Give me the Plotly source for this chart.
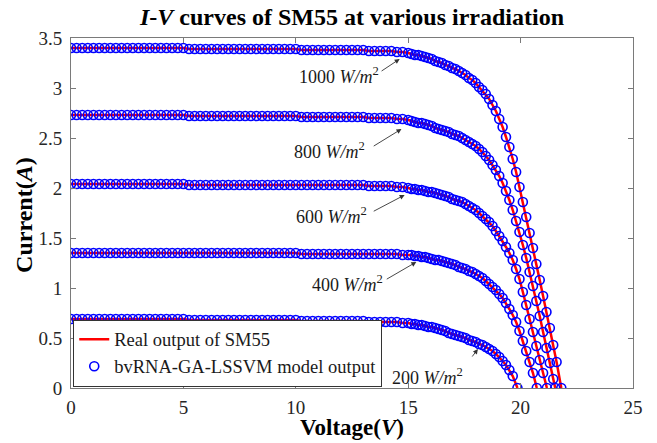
import plotly.graph_objects as go

# ---------------- data ----------------
IRRADIANCE = [1000, 800, 600, 400, 200]

V_FLAT = [0.00, 0.25, 0.50, 0.75, 1.00, 1.25, 1.50, 1.75, 2.00, 2.25,
          2.50, 2.75, 3.00, 3.25, 3.50, 3.75, 4.00, 4.25, 4.50, 4.75,
          5.00, 5.25, 5.50, 5.75, 6.00, 6.25, 6.50, 6.75, 7.00, 7.25,
          7.50, 7.75, 8.00, 8.25, 8.50, 8.75, 9.00, 9.25, 9.50, 9.75,
          10.00, 10.25, 10.50, 10.75, 11.00, 11.25, 11.50, 11.75, 12.00, 12.25,
          12.50, 12.75, 13.00, 13.25, 13.50, 13.75, 14.00, 14.25, 14.50, 14.75,
          15.00]

V_KNEE = [15.15, 15.30, 15.45, 15.60, 15.75, 15.90, 16.05, 16.20, 16.35, 16.50,
          16.65, 16.80, 16.95, 17.10, 17.25, 17.40, 17.55, 17.70, 17.85, 18.00,
          18.15, 18.30, 18.45, 18.60, 18.75, 18.90, 19.05, 19.20, 19.35, 19.50,
          19.65, 19.80, 19.95, 20.10, 20.25, 20.40, 20.55, 20.70, 20.85, 21.00,
          21.15, 21.30, 21.45, 21.60]

I_FLAT_1000 = [3.40, 3.40, 3.40, 3.40, 3.40, 3.40, 3.40, 3.40, 3.40, 3.40,
               3.40, 3.40, 3.40, 3.40, 3.40, 3.40, 3.40, 3.40, 3.40, 3.40,
               3.40, 3.39, 3.39, 3.39, 3.39, 3.39, 3.39, 3.39, 3.39, 3.39,
               3.39, 3.39, 3.39, 3.39, 3.39, 3.39, 3.39, 3.39, 3.39, 3.39,
               3.39, 3.38, 3.38, 3.38, 3.38, 3.38, 3.38, 3.38, 3.38, 3.38,
               3.38, 3.38, 3.38, 3.37, 3.37, 3.37, 3.37, 3.37, 3.36, 3.36,
               3.35]
I_FLAT_800 = [2.73, 2.73, 2.73, 2.73, 2.73, 2.73, 2.73, 2.73, 2.73, 2.73,
              2.73, 2.73, 2.73, 2.73, 2.73, 2.73, 2.73, 2.73, 2.73, 2.73,
              2.73, 2.72, 2.72, 2.72, 2.72, 2.72, 2.72, 2.72, 2.72, 2.72,
              2.72, 2.72, 2.72, 2.72, 2.72, 2.72, 2.72, 2.72, 2.72, 2.72,
              2.72, 2.71, 2.71, 2.71, 2.71, 2.71, 2.71, 2.71, 2.71, 2.71,
              2.71, 2.71, 2.71, 2.70, 2.70, 2.70, 2.70, 2.70, 2.69, 2.69,
              2.68]
I_FLAT_600 = [2.04, 2.04, 2.04, 2.04, 2.04, 2.04, 2.04, 2.04, 2.04, 2.04,
              2.04, 2.04, 2.04, 2.04, 2.04, 2.04, 2.04, 2.04, 2.04, 2.04,
              2.04, 2.03, 2.03, 2.03, 2.03, 2.03, 2.03, 2.03, 2.03, 2.03,
              2.03, 2.03, 2.03, 2.03, 2.03, 2.03, 2.03, 2.03, 2.03, 2.03,
              2.03, 2.03, 2.03, 2.03, 2.03, 2.03, 2.03, 2.03, 2.03, 2.03,
              2.03, 2.03, 2.03, 2.02, 2.02, 2.02, 2.02, 2.02, 2.01, 2.01,
              2.00]
I_FLAT_400 = [1.35, 1.35, 1.35, 1.35, 1.35, 1.35, 1.35, 1.35, 1.35, 1.35,
              1.35, 1.35, 1.35, 1.35, 1.35, 1.35, 1.35, 1.35, 1.35, 1.35,
              1.35, 1.35, 1.35, 1.35, 1.35, 1.35, 1.35, 1.35, 1.35, 1.35,
              1.35, 1.35, 1.35, 1.35, 1.35, 1.35, 1.35, 1.35, 1.35, 1.35,
              1.35, 1.34, 1.34, 1.34, 1.34, 1.34, 1.34, 1.34, 1.34, 1.34,
              1.34, 1.34, 1.34, 1.34, 1.34, 1.34, 1.34, 1.34, 1.34, 1.33,
              1.33]
I_FLAT_200 = [0.69, 0.69, 0.69, 0.69, 0.69, 0.69, 0.69, 0.69, 0.69, 0.69,
              0.69, 0.69, 0.69, 0.69, 0.69, 0.69, 0.69, 0.69, 0.69, 0.69,
              0.69, 0.68, 0.68, 0.68, 0.68, 0.68, 0.68, 0.68, 0.68, 0.68,
              0.68, 0.68, 0.68, 0.68, 0.68, 0.68, 0.68, 0.68, 0.68, 0.68,
              0.68, 0.67, 0.67, 0.67, 0.67, 0.67, 0.67, 0.67, 0.67, 0.67,
              0.67, 0.67, 0.67, 0.66, 0.66, 0.66, 0.66, 0.66, 0.66, 0.65,
              0.65]

I_KNEE_1000 = [3.34, 3.33, 3.33, 3.32, 3.31, 3.30, 3.29, 3.27, 3.26, 3.25,
               3.23, 3.22, 3.20, 3.19, 3.17, 3.15, 3.13, 3.10, 3.08, 3.05,
               3.01, 2.98, 2.94, 2.89, 2.83, 2.77, 2.69, 2.61, 2.51, 2.41,
               2.29, 2.16, 2.01, 1.86, 1.71, 1.55, 1.40, 1.24, 1.08, 0.92,
               0.76, 0.60, 0.43, 0.26]
I_KNEE_800 = [2.67, 2.66, 2.65, 2.65, 2.64, 2.63, 2.62, 2.60, 2.59, 2.58,
              2.57, 2.56, 2.54, 2.53, 2.52, 2.50, 2.48, 2.46, 2.44, 2.42,
              2.39, 2.36, 2.32, 2.28, 2.23, 2.18, 2.12, 2.05, 1.97, 1.88,
              1.78, 1.67, 1.56, 1.43, 1.30, 1.16, 1.02, 0.87, 0.72, 0.56,
              0.40, 0.25, 0.09]
I_KNEE_600 = [1.99, 1.99, 1.98, 1.98, 1.97, 1.96, 1.96, 1.95, 1.94, 1.93,
              1.92, 1.91, 1.89, 1.88, 1.87, 1.86, 1.84, 1.82, 1.80, 1.78,
              1.75, 1.72, 1.69, 1.66, 1.62, 1.57, 1.52, 1.47, 1.41, 1.35,
              1.28, 1.19, 1.09, 0.96, 0.83, 0.69, 0.56, 0.42, 0.28, 0.15]
I_KNEE_400 = [1.33, 1.32, 1.32, 1.31, 1.31, 1.30, 1.29, 1.28, 1.28, 1.27,
              1.26, 1.25, 1.24, 1.23, 1.21, 1.20, 1.19, 1.17, 1.16, 1.14,
              1.12, 1.10, 1.07, 1.04, 1.01, 0.98, 0.94, 0.90, 0.85, 0.79,
              0.73, 0.66, 0.57, 0.47, 0.37, 0.26, 0.15]
I_KNEE_200 = [0.64, 0.64, 0.63, 0.63, 0.62, 0.61, 0.61, 0.60, 0.59, 0.58,
              0.57, 0.55, 0.54, 0.53, 0.52, 0.51, 0.50, 0.48, 0.47, 0.46,
              0.44, 0.43, 0.41, 0.39, 0.37, 0.34, 0.31, 0.27, 0.23, 0.18,
              0.12]

VOC = [21.81, 21.54, 21.17, 20.72, 19.86]

I_FLAT = [I_FLAT_1000, I_FLAT_800, I_FLAT_600, I_FLAT_400, I_FLAT_200]
I_KNEE = [I_KNEE_1000, I_KNEE_800, I_KNEE_600, I_KNEE_400, I_KNEE_200]

# label / arrow placement (data units): text centre, arrow tail, arrow head
LABEL_TEXT = [(11.9, 3.13), (11.5, 2.38), (11.6, 1.73), (12.3, 1.05), (15.85, 0.12)]
ARROW_TAIL = [(13.75, 3.16), (13.4, 2.41), (13.4, 1.76), (13.98, 1.08), (17.8, 0.30)]
ARROW_HEAD = [(14.62, 3.29), (14.70, 2.59), (14.84, 1.93), (15.36, 1.26), (18.10, 0.39)]

FONT = "Liberation Serif, Times New Roman, Times, serif"

fig = go.Figure()

curves = []
for k in range(len(IRRADIANCE)):
    n = len(I_KNEE[k])
    v = V_FLAT + V_KNEE[:n] + [VOC[k]]
    i = I_FLAT[k] + I_KNEE[k] + [0.0]
    curves.append((v, i))

for k, (v, i) in enumerate(curves):
    fig.add_trace(go.Scatter(
        x=v, y=i, mode="lines", line=dict(color="#ff0000", width=2.5),
        name="Real output of SM55", legendgroup="real", showlegend=(k == 0)))

for k, (v, i) in enumerate(curves):
    fig.add_trace(go.Scatter(
        x=v, y=i, mode="markers",
        marker=dict(symbol="circle-open", size=9, color="#0000ff",
                    line=dict(width=1.6, color="#0000ff")),
        name="bvRNA-GA-LSSVM model output", legendgroup="model",
        showlegend=(k == 0)))

annotations = []
for k, g in enumerate(IRRADIANCE):
    annotations.append(dict(
        x=LABEL_TEXT[k][0], y=LABEL_TEXT[k][1], xref="x", yref="y",
        text=f"{g} <i>W/m</i><sup>2</sup>", showarrow=False,
        font=dict(family=FONT, size=18, color="#1a1a1a")))
    annotations.append(dict(
        x=ARROW_HEAD[k][0], y=ARROW_HEAD[k][1], xref="x", yref="y",
        ax=ARROW_TAIL[k][0], ay=ARROW_TAIL[k][1], axref="x", ayref="y",
        text="", showarrow=True, arrowhead=2, arrowsize=1.1,
        arrowwidth=0.9, arrowcolor="#333333", standoff=0, startstandoff=0))

# axis titles placed as paper-anchored annotations
annotations.append(dict(
    x=0.5, y=-0.113, xref="paper", yref="paper", xanchor="center",
    yanchor="middle", showarrow=False,
    text="<b>Voltage(<i>V</i>)</b>",
    font=dict(family=FONT, size=23, color="black")))
annotations.append(dict(
    x=-0.084, y=0.494, xref="paper", yref="paper", xanchor="center",
    yanchor="middle", showarrow=False, textangle=-90,
    text="<b>Current(<i>A</i>)</b>",
    font=dict(family=FONT, size=24, color="black")))

axis_common = dict(
    showgrid=False, zeroline=False, showline=True, linecolor="#7a7a7a",
    linewidth=1, mirror="ticks", ticks="inside", ticklen=5,
    automargin=False,
    tickcolor="#7a7a7a", tickfont=dict(family=FONT, size=19, color="#262626"))

fig.update_layout(
    width=657, height=443,
    margin=dict(l=71, r=24, t=38, b=55),
    paper_bgcolor="white", plot_bgcolor="white",
    font=dict(family=FONT, color="black"),
    title=dict(text="<b><i>I</i>-<i>V</i> curves of SM55 at various irradiation</b>",
               x=0.5, xref="paper", xanchor="center",
               y=0.962, yref="container", yanchor="middle",
               font=dict(family=FONT, size=24, color="black")),
    xaxis=dict(range=[0, 25], tickvals=[0, 5, 10, 15, 20, 25],
               ticklabelstandoff=2, **axis_common),
    yaxis=dict(range=[0, 3.5], tickvals=[0, 0.5, 1, 1.5, 2, 2.5, 3, 3.5],
               ticktext=["0", "0.5", "1", "1.5", "2", "2.5", "3", "3.5"],
               ticklabelstandoff=4, **axis_common),
    legend=dict(x=0.004, y=0.004, xanchor="left", yanchor="bottom",
                bordercolor="#333333", borderwidth=1, bgcolor="white",
                font=dict(family=FONT, size=18.5, color="#1a1a1a"),
                tracegroupgap=0, itemwidth=30),
    annotations=annotations,
)

fig.write_html("out.html")
